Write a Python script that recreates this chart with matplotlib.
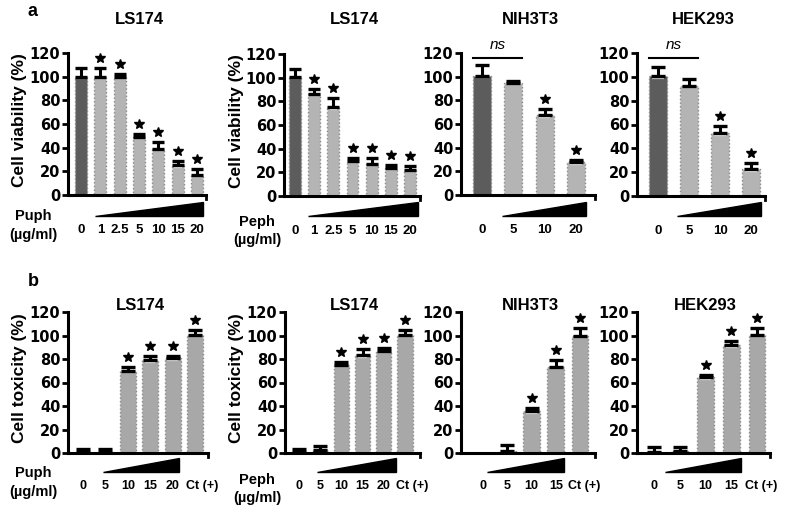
import numpy as np
import matplotlib
matplotlib.use('Agg')
import matplotlib.pyplot as plt
from matplotlib.patches import Polygon
from matplotlib.transforms import offset_copy, ScaledTranslation

plt.rcParams['font.family'] = ['Liberation Sans', 'DejaVu Sans']
plt.rcParams['font.weight'] = 'bold'

W, H = 785, 508

# --- data: panel a (viability) ---
doses_a_long = ['0', '1', '2.5', '5', '10', '15', '20']
doses_a_short = ['0', '5', '10', '20']

ls174_puph_via = [100, 100, 100, 49, 39, 25, 17]
ls174_puph_via_err = [7, 7, 2.5, 2.5, 6, 3.5, 5]
ls174_puph_via_sig = [0, 1, 1, 1, 1, 1, 1]

ls174_peph_via = [100.5, 86.5, 75, 30, 27, 24, 22]
ls174_peph_via_err = [6.5, 4, 8, 2, 5.5, 2, 3]
ls174_peph_via_sig = [0, 1, 1, 1, 1, 1, 1]

nih_via = [100.5, 95, 67.5, 27.5]
nih_via_err = [9, 1, 5, 2.5]
nih_via_sig = [0, 0, 1, 1]

hek_via = [100.5, 92.5, 52.5, 22.5]
hek_via_err = [7.5, 5.5, 6.5, 5]
hek_via_sig = [0, 0, 1, 1]

# --- data: panel b (toxicity) ---
doses_b_long = ['0', '5', '10', '15', '20', 'Ct (+)']
doses_b_short = ['0', '5', '10', '15', 'Ct (+)']

ls174_puph_tox = [0.5, 0.5, 70, 79, 80.5, 100.5]
ls174_puph_tox_err = [2.5, 2.5, 3, 3.5, 2, 4.5]
ls174_puph_tox_sig = [0, 0, 1, 1, 1, 1]

ls174_peph_tox = [1, 2.5, 75, 83, 87, 100.5]
ls174_peph_tox_err = [2, 3.5, 2.5, 5.5, 2.5, 4]
ls174_peph_tox_sig = [0, 0, 1, 1, 1, 1]

nih_tox = [0, 2, 35.5, 73.5, 100]
nih_tox_err = [0, 5, 3, 6, 6]
nih_tox_sig = [0, 0, 1, 1, 1]

hek_tox = [0.5, 2, 64.5, 91.5, 100.5]
hek_tox_err = [5, 3, 1.5, 3.5, 6]
hek_tox_sig = [0, 0, 1, 1, 1]

fig = plt.figure(figsize=(W / 100, H / 100), dpi=100)


def fx(x):
    return x / W


def fy(y):
    return 1 - y / H


def panel(box, labels, vals, errs, sig, title, title_y, wedge, wedge_y,
          width, dark_first, bar_color, capsize, xpad, xsize, ns=False, last_shift=0):
    left, right, top, bottom, b0, b1 = box
    ax = fig.add_axes([fx(left), fy(bottom), (right - left) / W, (bottom - top) / H])
    vals = np.array(vals, float)
    errs = np.array(errs, float)
    n = len(vals)
    x = np.arange(n)
    step = (b1 - b0) / (n - 1)
    ax.set_xlim((left - b0) / step, (right - b0) / step)
    ax.set_ylim(0, 120)

    colors = [bar_color] * n
    if dark_first:
        colors[0] = '#5c5c5c'
    ax.bar(x, vals, width=width, color=colors, edgecolor='#8a8a8a',
           linestyle=':', linewidth=1, zorder=2)
    # soft light rim on top of each bar
    hi = vals > 1.5
    ax.hlines(vals[hi] - 1.2, x[hi] - width * 0.32, x[hi] + width * 0.32,
              colors='white', lw=1.6, alpha=0.75, zorder=2.5)

    m = errs > 0
    ax.errorbar(x[m], vals[m], yerr=[np.zeros(m.sum()), errs[m]], fmt='none',
                ecolor='black', elinewidth=2.2, capsize=capsize, capthick=2.4, zorder=3)

    s = np.array(sig, bool)
    tr = offset_copy(ax.transData, fig=fig, y=10, units='dots')
    ax.plot(x[s], (vals + errs)[s], ls='none', marker='*', ms=7.5, color='black',
            transform=tr, clip_on=False, zorder=4)

    for sp in ['top', 'right']:
        ax.spines[sp].set_visible(False)
    for sp in ['left', 'bottom']:
        ax.spines[sp].set_linewidth(2.2)
    ax.set_yticks(range(0, 121, 20))
    ax.set_xticks(x, labels)
    ax.tick_params(axis='y', direction='out', length=4, width=2, pad=1.5)
    ax.tick_params(axis='x', length=0, labelsize=xsize, pad=xpad)
    for t in ax.get_yticklabels():
        t.set_fontfamily('DejaVu Sans')
        t.set_fontsize(10.5)
        t.set_fontweight('bold')
    if last_shift:
        lab = ax.get_xticklabels()[-1]
        lab.set_transform(lab.get_transform() + ScaledTranslation(last_shift / 100, 0, fig.dpi_scale_trans))
    # little hook at the end of the x axis
    ax.plot([1, 1], [0, -0.025], transform=ax.transAxes, color='black', lw=2, clip_on=False)

    if ns:
        ax.plot([-width / 2, 1 + width / 2], [116, 116], color='black', lw=1.5, clip_on=False)
        ax.text(0.5, 126.5, 'ns', ha='center', va='center', fontsize=11,
                fontstyle='italic', fontweight='normal', clip_on=False)

    fig.text(fx((left + right) / 2 + 2), fy(title_y), title, ha='center', va='center',
             fontsize=12, fontweight='bold')

    wx0, wx1 = wedge
    wtop, wbot = wedge_y
    fig.add_artist(Polygon([(fx(wx0), fy(wbot)), (fx(wx1), fy(wbot)), (fx(wx1), fy(wtop))],
                           closed=True, facecolor='black', edgecolor='black',
                           transform=fig.transFigure))
    return ax


# row a
panel((68, 206, 53, 195, 81, 197), doses_a_long, ls174_puph_via, ls174_puph_via_err,
      ls174_puph_via_sig, 'LS174', 19, (95, 203), (202, 216), 0.62, True, '#b4b4b4', 4.3, 21, 9.5)
panel((284, 420, 54, 196, 295, 410), doses_a_long, ls174_peph_via, ls174_peph_via_err,
      ls174_peph_via_sig, 'LS174', 19, (308, 418), (202, 216), 0.62, True, '#b4b4b4', 4.3, 21, 9.5)
panel((461, 595, 53, 195, 482, 576), doses_a_short, nih_via, nih_via_err,
      nih_via_sig, 'NIH3T3', 19, (502, 586), (202, 216), 0.58, True, '#b4b4b4', 5, 21, 9.5, ns=True)
panel((637, 765, 53, 196, 658, 751), doses_a_short, hek_via, hek_via_err,
      hek_via_sig, 'HEK293', 19, (677, 761), (202, 216), 0.58, True, '#b4b4b4', 5, 21, 9.5, ns=True)

# row b
panel((68, 208, 312, 453, 83, 195), doses_b_long, ls174_puph_tox, ls174_puph_tox_err,
      ls174_puph_tox_sig, 'LS174', 306, (103, 179), (458, 472), 0.72, False, '#a8a8a8', 5, 19.5, 9,
      last_shift=7)
panel((285, 420, 312, 453, 299, 405), doses_b_long, ls174_peph_tox, ls174_peph_tox_err,
      ls174_peph_tox_sig, 'LS174', 306, (317, 396), (458, 472), 0.72, False, '#a8a8a8', 5, 19.5, 9,
      last_shift=7)
panel((461, 595, 312, 453, 483, 580), doses_b_short, nih_tox, nih_tox_err,
      nih_tox_sig, 'NIH3T3', 306, (487, 564), (458, 472), 0.7, False, '#a8a8a8', 5, 19.5, 9,
      last_shift=4)
panel((637, 770, 312, 453, 654, 757), doses_b_short, hek_tox, hek_tox_err,
      hek_tox_sig, 'HEK293', 306, (665, 741), (458, 472), 0.65, False, '#a8a8a8', 5, 19.5, 9,
      last_shift=4)

# axis titles and dose captions
ylab_kw = dict(rotation=90, ha='center', va='center', fontsize=12.5, fontweight='bold')
fig.text(fx(20), fy(120), 'Cell viability (%)', **ylab_kw)
fig.text(fx(236), fy(121), 'Cell viability (%)', **ylab_kw)
fig.text(fx(20), fy(378), 'Cell toxicity (%)', **ylab_kw)
fig.text(fx(236), fy(378), 'Cell toxicity (%)', **ylab_kw)

cap_kw = dict(ha='center', va='center', fontsize=10.5, fontweight='bold')
fig.text(fx(33), fy(216), 'Puph', **cap_kw)
fig.text(fx(33), fy(235), '(µg/ml)', **cap_kw)
fig.text(fx(257), fy(222), 'Peph', **cap_kw)
fig.text(fx(257), fy(240), '(µg/ml)', **cap_kw)
fig.text(fx(33), fy(473), 'Puph', **cap_kw)
fig.text(fx(33), fy(492), '(µg/ml)', **cap_kw)
fig.text(fx(257), fy(480), 'Peph', **cap_kw)
fig.text(fx(257), fy(498), '(µg/ml)', **cap_kw)

fig.text(fx(32), fy(12), 'a', ha='center', va='center', fontsize=13, fontweight='bold')
fig.text(fx(33), fy(282), 'b', ha='center', va='center', fontsize=13, fontweight='bold')

fig.savefig('out.png', dpi=100)
